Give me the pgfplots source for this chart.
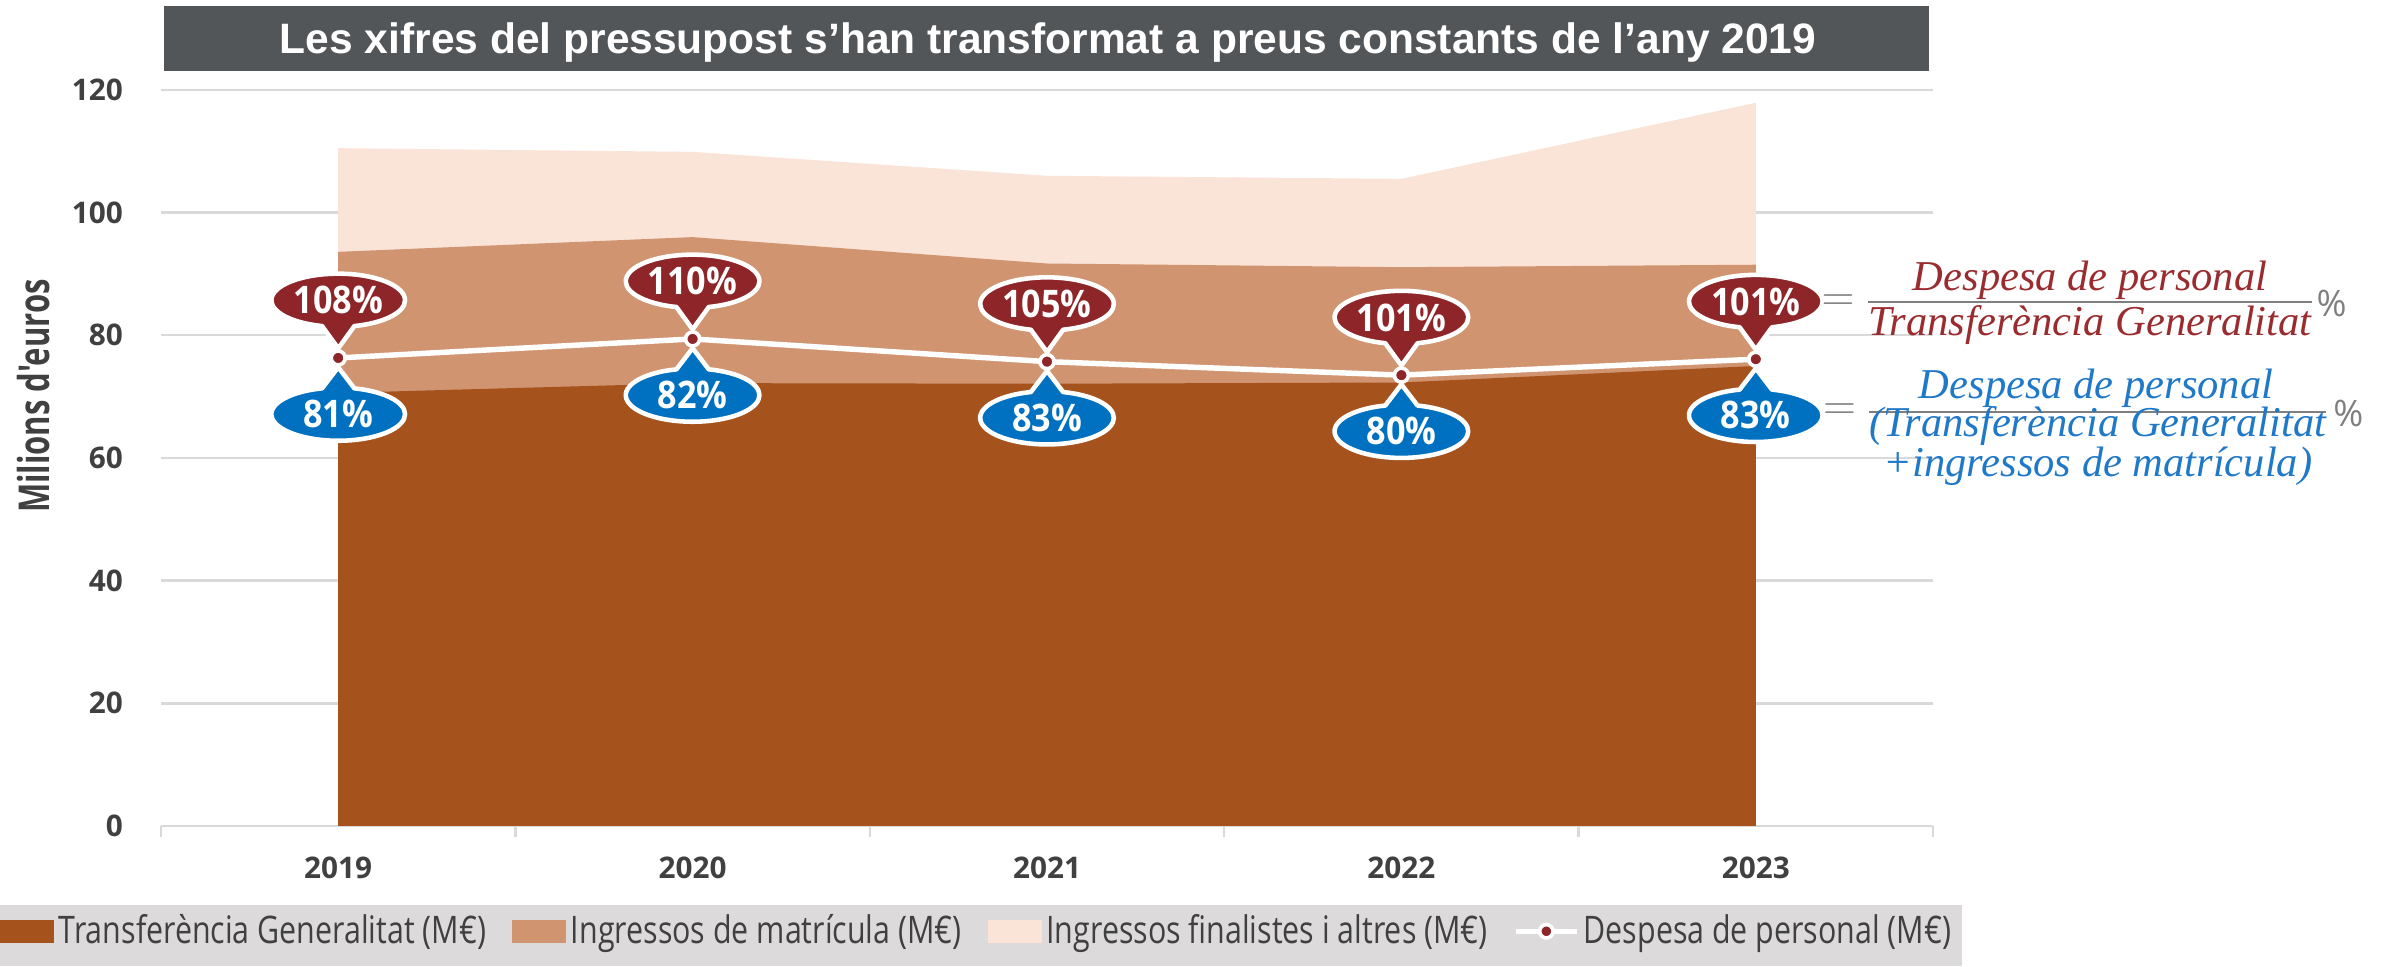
\documentclass[border=0pt]{standalone}
\usepackage{fontspec}
\usepackage{pgfplots}
\usepackage{pgfplotstable}
\pgfplotsset{compat=1.18}
\usetikzlibrary{shapes.callouts}
\setmainfont{Open Sans}
\newfontfamily\titlefont{Liberation Sans}
\newfontfamily\tickfont{Open Sans}
\newfontfamily\ylabfont[FakeStretch=0.73]{Open Sans}
\newfontfamily\legfont[FakeStretch=0.8]{Open Sans}
\newfontfamily\pctfont[FakeStretch=0.9]{Open Sans}
\newfontfamily\formfont{Liberation Serif}
\definecolor{transfer}{HTML}{A5521C}
\definecolor{matric}{HTML}{D09470}
\definecolor{finalc}{HTML}{FAE4D7}
\definecolor{cdark}{HTML}{8E2629}
\definecolor{cblue}{HTML}{0070C0}
\definecolor{fred}{HTML}{9A2B2E}
\definecolor{fblue}{HTML}{1F78C8}
\definecolor{fgray}{HTML}{7F7F7F}
\definecolor{gridgray}{HTML}{D9D9D9}
\definecolor{tickgray}{HTML}{404040}
\definecolor{titlebg}{HTML}{525659}
\definecolor{legbg}{HTML}{DCDADB}

\pgfplotstableread{
x  T     Mtop  Tot    D
0  70.6  93.6  110.5  76.3
1  72.2  96.0  109.9  79.4
2  72.1  91.7  106.0  75.7
3  72.3  91.1  105.5  73.5
4  75.0  91.5  117.9  76.1
}\data

\begin{document}
\begin{tikzpicture}
\path[use as bounding box] (0,0) rectangle (784.1pt,318pt);
\fill[legbg] (0,0) rectangle (646pt,20.1pt);
\fill[titlebg] (54pt,294.6pt) rectangle (635pt,316pt);
\node[anchor=base, text=white, font=\titlefont\bfseries\fontsize{14}{15}\selectfont, inner sep=0pt]
  at (345pt,300.4pt) {Les xifres del pressupost s’han transformat a preus constants de l’any 2019};

\begin{axis}[
  at={(53pt,46.1pt)}, anchor=south west,
  scale only axis, width=583.3pt, height=242.3pt,
  xmin=-0.5, xmax=4.5, ymin=0, ymax=120,
  clip=false,
  xtick={0,...,4}, xticklabels={2019,2020,2021,2022,2023},
  minor xtick={-0.5,0.5,...,4.5},
  ytick={0,20,...,120},
  axis x line*=bottom, axis y line*=left,
  x axis line style={draw=gridgray, line width=0.8pt, -},
  y axis line style={draw=none},
  major tick length=0pt,
  minor tick length=3.7pt,
  tick align=outside,
  minor tick style={draw=gridgray, line width=0.8pt},
  ymajorgrids, grid style={draw=gridgray, line width=0.8pt},
  /pgf/number format/assume math mode=true,
  ticklabel style={font=\tickfont\bfseries\fontsize{9.8}{10}\selectfont, text=tickgray},
  yticklabel style={xshift=-9pt},
  xticklabel style={yshift=-6.5pt},
  ylabel={Milions d'euros},
  every axis y label/.style={at={(axis description cs:-0.072,0.584)}, rotate=90, anchor=center,
    font=\ylabfont\bfseries\fontsize{14}{15}\selectfont, text=tickgray},
  legend style={at={(axis description cs:-0.0909,-0.143)}, anchor=west, draw=none, fill=none,
    legend columns=4, font=\legfont\fontsize{12.5}{13}\selectfont, text=tickgray,
    inner sep=0pt, outer sep=0pt, nodes={inner sep=1.5pt},
    /tikz/every even column/.append style={column sep=7pt}},
  legend cell align=left,
]
\addplot[fill=finalc, draw=none, forget plot] table[x=x, y=Tot] {\data} \closedcycle;
\addplot[fill=matric, draw=none, forget plot] table[x=x, y=Mtop] {\data} \closedcycle;
\addplot[fill=transfer, draw=none, forget plot] table[x=x, y=T] {\data} \closedcycle;

\addlegendimage{legend image code/.code={\fill[transfer] (0pt,-3.6pt) rectangle (17.5pt,3.6pt);}}
\addlegendentry{Transferència Generalitat (M€)}
\addlegendimage{legend image code/.code={\fill[matric] (0pt,-3.6pt) rectangle (17.5pt,3.6pt);}}
\addlegendentry{Ingressos de matrícula (M€)}
\addlegendimage{legend image code/.code={\fill[finalc] (0pt,-3.6pt) rectangle (17.5pt,3.6pt);}}
\addlegendentry{Ingressos finalistes i altres (M€)}
\addlegendimage{legend image code/.code={\draw[white, line width=1.6pt] (0pt,0pt) -- (20pt,0pt); \draw[white, fill=cdark, line width=1.2pt] (10pt,0pt) circle (2.2pt);}}
\addlegendentry{Despesa de personal (M€)}

\addplot[draw=none, mark=none, forget plot, nodes near coords, point meta=explicit symbolic,
  every node near coord/.style={ellipse callout, fill=cdark, draw=white, line width=1.5pt,
    line join=round, callout pointer arc=28,
    text=white, font=\pctfont\bfseries\fontsize{12.5}{12.5}\selectfont,
    minimum width=44pt, minimum height=17.5pt, inner sep=0pt, anchor=center,
    yshift=19pt, callout relative pointer={(0pt,-7.1pt)}}]
  coordinates {(0,76.3) [108\%] (1,79.4) [110\%] (2,75.7) [105\%] (3,73.5) [101\%] (4,76.1) [101\%]};

\addplot[draw=none, mark=none, forget plot, nodes near coords, point meta=explicit symbolic,
  every node near coord/.style={ellipse callout, fill=cblue, draw=white, line width=1.5pt,
    line join=round, callout pointer arc=28,
    text=white, font=\pctfont\bfseries\fontsize{12.5}{12.5}\selectfont,
    minimum width=44pt, minimum height=17.5pt, inner sep=0pt, anchor=center,
    yshift=-18.5pt, callout relative pointer={(0pt,6.7pt)}}]
  coordinates {(0,76.3) [81\%] (1,79.4) [82\%] (2,75.7) [83\%] (3,73.5) [80\%] (4,76.1) [83\%]};

\addplot[draw=white, line width=1.8pt, mark=*, mark size=2.3pt,
  mark options={fill=cdark, draw=white, line width=1.2pt, solid}, forget plot]
  table[x=x, y=D] {\data};
\end{axis}

% formulas
\node[text=fgray, inner sep=0pt, font=\fontsize{15}{15}\selectfont] at (605pt,218.3pt) {$=$};
\draw[fgray, line width=0.9pt] (615pt,218.6pt) -- (761pt,218.6pt);
\node[anchor=base, inner sep=0pt, text=fred, font=\formfont\itshape\fontsize{14}{14}\selectfont] at (688pt,222.5pt) {Despesa de personal};
\node[anchor=base, inner sep=0pt, text=fred, font=\formfont\itshape\fontsize{14}{14}\selectfont] at (688pt,207.4pt) {Transferència Generalitat};
\node[text=fgray, inner sep=0pt, font=\fontsize{12}{12}\selectfont] at (767.5pt,218pt) {\%};

\node[text=fgray, inner sep=0pt, font=\fontsize{15}{15}\selectfont] at (605.5pt,182.4pt) {$=$};
\draw[fgray, line width=0.9pt] (615.3pt,182.4pt) -- (765.7pt,182.4pt);
\node[anchor=base, inner sep=0pt, text=fblue, font=\formfont\itshape\fontsize{14}{14}\selectfont] at (690pt,186.7pt) {Despesa de personal};
\node[anchor=base, inner sep=0pt, text=fblue, font=\formfont\itshape\fontsize{14}{14}\selectfont] at (690.5pt,174.2pt) {(Transferència Generalitat};
\node[anchor=base, inner sep=0pt, text=fblue, font=\formfont\itshape\fontsize{14}{14}\selectfont] at (690.6pt,161.3pt) {+ingressos de matrícula)};
\node[text=fgray, inner sep=0pt, font=\fontsize{12}{12}\selectfont] at (773pt,182pt) {\%};
\end{tikzpicture}
\end{document}
